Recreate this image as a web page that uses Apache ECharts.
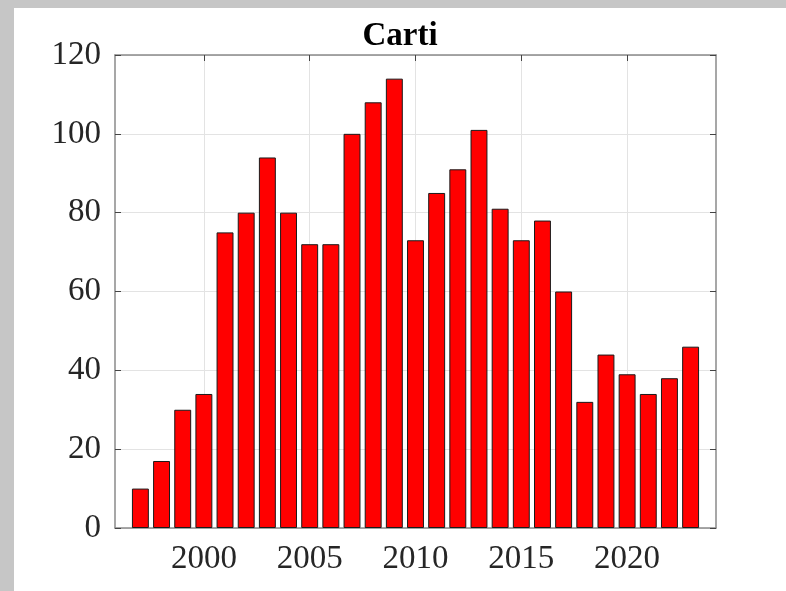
<!DOCTYPE html>
<html lang="en">

<head>
    <meta charset="UTF-8">
    <title>Carti</title>
    <script src="https://cdn.jsdelivr.net/npm/echarts@6/dist/echarts.min.js"></script>
    <style>
        html, body { margin: 0; padding: 0; background: #c6c6c6; width: 786px; height: 591px; overflow: hidden; }
        #demo1 { position: absolute; left: 14px; top: 8px; width: 772px; height: 583px; background: #fff; }
    </style>
</head>

<body>
    <div id="demo1"></div>

    <script>
        // data
        let years = [1997, 1998, 1999, 2000, 2001, 2002, 2003, 2004, 2005, 2006, 2007, 2008, 2009, 2010,
            2011, 2012, 2013, 2014, 2015, 2016, 2017, 2018, 2019, 2020, 2021, 2022, 2023];
        let counts = [10, 17, 30, 34, 75, 80, 94, 80, 72, 72, 100, 108, 114, 73,
            85, 91, 101, 81, 73, 78, 60, 32, 44, 39, 34, 38, 46];
        let xTicks = [2000, 2005, 2010, 2015, 2020];
        let yTicks = [0, 20, 40, 60, 80, 100, 120];

        let myChart = echarts.init(document.getElementById('demo1'));

        let gridLeft = 101, gridRight = 70;
        let xMin = 1995.8, xMax = 2024.2;
        let plotW = 772 - gridLeft - gridRight;
        let barW = 0.8 * plotW / (xMax - xMin);

        let axisColor = '#8a8a8a';
        let textColor = '#262626';
        let font = '"Liberation Serif", "Times New Roman", serif';

        let data = years.map((y, i) => [y, counts[i]]);

        let option = {
            animation: false,
            title: {
                text: 'Carti',
                left: 'center',
                top: 12,
                padding: 0,
                textStyle: { fontFamily: font, fontWeight: 'bold', fontSize: 33, color: '#000' }
            },
            grid: { left: gridLeft, right: gridRight, top: 47, bottom: 63 },
            xAxis: [{
                type: 'value',
                min: xMin,
                max: xMax,
                axisLine: { show: true, onZero: false, lineStyle: { color: axisColor, width: 1.5 } },
                axisTick: { show: true, inside: true, length: 6, customValues: xTicks, lineStyle: { color: '#444' } },
                axisLabel: {
                    customValues: xTicks, margin: 15, color: textColor,
                    fontFamily: font, fontSize: 33,
                    formatter: v => String(v)
                },
                splitLine: { show: true, lineStyle: { color: '#e3e3e3', width: 1 } }
            }, {
                type: 'value',
                position: 'top',
                min: xMin,
                max: xMax,
                axisLine: { show: true, onZero: false, lineStyle: { color: axisColor, width: 1.5 } },
                axisTick: { show: true, inside: true, length: 6, customValues: xTicks, lineStyle: { color: '#444' } },
                axisLabel: { show: false },
                splitLine: { show: false }
            }],
            yAxis: [{
                type: 'value',
                min: 0,
                max: 120,
                interval: 20,
                axisLine: { show: true, onZero: false, lineStyle: { color: axisColor, width: 1.5 } },
                axisTick: { show: true, inside: true, length: 6, lineStyle: { color: '#444' } },
                axisLabel: { margin: 14, color: textColor, fontFamily: font, fontSize: 33 },
                splitLine: { show: true, lineStyle: { color: '#e3e3e3', width: 1 } }
            }, {
                type: 'value',
                position: 'right',
                min: 0,
                max: 120,
                interval: 20,
                axisLine: { show: true, onZero: false, lineStyle: { color: axisColor, width: 1.5 } },
                axisTick: { show: true, inside: true, length: 6, lineStyle: { color: '#444' } },
                axisLabel: { show: false },
                splitLine: { show: false }
            }],
            series: [{
                name: 'Carti',
                type: 'bar',
                xAxisIndex: 0,
                yAxisIndex: 0,
                barWidth: barW,
                data: data,
                itemStyle: { color: '#ff0000', borderColor: '#1a1a1a', borderWidth: 1 }
            }]
        };

        myChart.setOption(option);
    </script>
</body>

</html>
